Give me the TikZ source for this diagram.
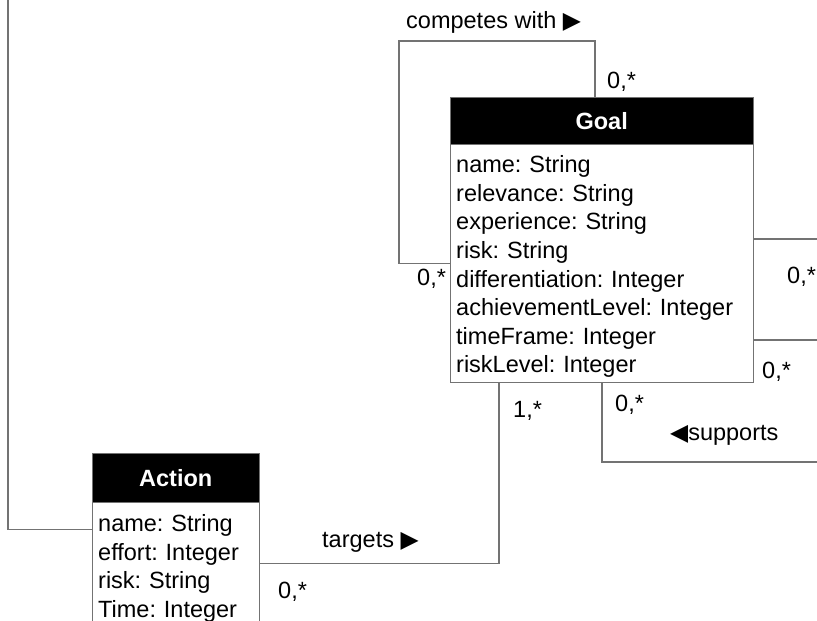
\documentclass[tikz,border=0pt]{standalone}
\usepackage{fontspec}
\setmainfont{Liberation Sans}
\newfontfamily\symfont{DejaVu Sans}
\usetikzlibrary{positioning}
\frenchspacing
\newcommand{\umlfont}{\fontsize{23.5}{28.6}\selectfont}
\tikzset{
  classhead/.style = { draw=black!55, fill=black, text=white, font=\umlfont\bfseries,
                       anchor=north west, inner sep=0pt },
  classbody/.style = { draw=black!55, fill=white, align=left, inner xsep=6pt, inner ysep=0pt },
  assoc/.style     = { draw=black!55, line width=1.1pt },
  mult/.style      = { anchor=base west, inner sep=0pt }
}
\begin{document}
\begin{tikzpicture}[x=1pt, y=-1pt, font=\umlfont]
\useasboundingbox (0,0) rectangle (817,621);

% classes
\node[classhead, minimum width=303pt, minimum height=47pt] (goalhead) at (450,97) {Goal};
\node[classbody, below=0pt of goalhead.south west, anchor=north west,
      text width=291pt, text height=28pt, text depth=210pt] (goalbody)
  {name: String\\
   relevance: String\\
   experience: String\\
   risk: String\\
   differentiation: Integer\\
   achievementLevel: Integer\\
   timeFrame: Integer\\
   riskLevel: Integer};

\node[classhead, minimum width=167pt, minimum height=49pt] (actionhead) at (92,453) {Action};
\node[classbody, below=0pt of actionhead.south west, anchor=north west,
      text width=155pt, text height=29pt, text depth=109pt] (actionbody)
  {name: String\\
   effort: Integer\\
   risk: String\\
   Time: Integer};

% loose ends
\coordinate (loop) at (399,41);
\coordinate (east1) at (817,239);
\coordinate (east2) at (817,340);
\coordinate (east3) at (817,462);
\coordinate (west1) at (8,0);

% associations
\draw[assoc] ([xshift=145pt]goalhead.north west) |- (loop) |- ([yshift=-119pt]goalbody.north west);
\draw[assoc] (goalbody.east |- east1) -- (east1);
\draw[assoc] (goalbody.east |- east2) -- (east2);
\draw[assoc] ([xshift=152pt]goalbody.south west) |- (east3);
\draw[assoc] ([xshift=49pt]goalbody.south west) |- ([yshift=-61pt]actionbody.north east);
\draw[assoc] (west1) |- ([yshift=-27pt]actionbody.north west);

% labels
\node[mult] (competes) at (406,28) {competes with {\symfont ▶}};
\node[mult] (m1) at (607,88) {0,*};
\node[mult] (m2) at (417,285) {0,*};
\node[mult] (m3) at (787,283) {0,*};
\node[mult] (m4) at (762,378) {0,*};
\node[mult] (m5) at (615,411) {0,*};
\node[mult] (supports) at (670,440) {{\symfont ◀}supports};
\node[mult] (m6) at (513,417) {1,*};
\node[mult] (targets) at (322,547) {targets {\symfont ▶}};
\node[mult] (m7) at (278,598) {0,*};
\end{tikzpicture}
\end{document}
